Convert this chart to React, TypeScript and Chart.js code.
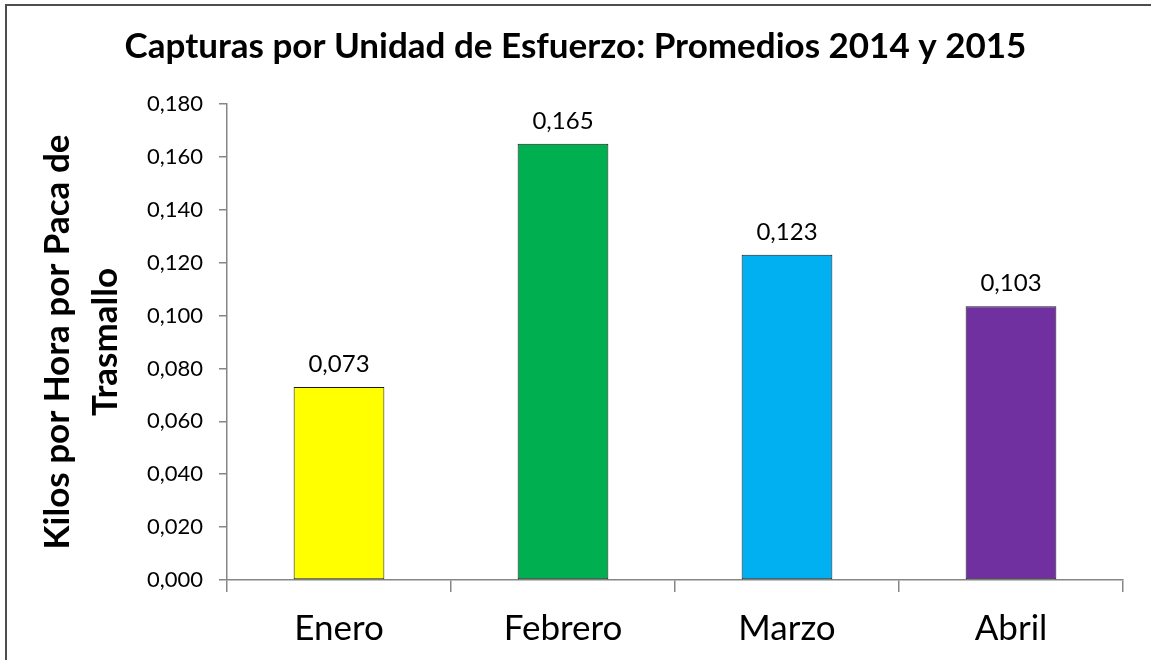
import React, { useEffect, useRef } from "react";
import { Chart, registerables } from "chart.js";

Chart.register(...registerables);

const categories = ["Enero", "Febrero", "Marzo", "Abril"];
const values = [0.073, 0.165, 0.123, 0.1035];
const valueLabels = ["0,073", "0,165", "0,123", "0,103"];
const barColors = ["#FFFF00", "#00B050", "#00B0F0", "#7030A0"];
const titleText = "Capturas por Unidad de Esfuerzo: Promedios 2014 y 2015";
const yTitleLines = ["Kilos por Hora por Paca de", "Trasmallo"];

const FONT = "Lato, 'Open Sans', sans-serif";

const borderPlugin = {
  id: "outerBorder",
  afterLayout(chart: any) {
    // center the title over the whole canvas, not only over the padded box
    if (chart.titleBlock) {
      chart.titleBlock.left = 0;
      chart.titleBlock.right = chart.width;
      chart.titleBlock.width = chart.width;
    }
  },
  beforeDraw(chart: any) {
    const ctx = chart.ctx;
    ctx.save();
    ctx.fillStyle = "#ffffff";
    ctx.fillRect(0, 0, chart.width, chart.height);
    ctx.strokeStyle = "#4d4d4d";
    ctx.lineWidth = 2;
    ctx.strokeRect(6, 5, chart.width + 20, chart.height + 20);
    ctx.restore();
  },
};

const valueLabelPlugin = {
  id: "valueLabels",
  afterDatasetsDraw(chart: any) {
    const ctx = chart.ctx;
    const meta = chart.getDatasetMeta(0);
    ctx.save();
    ctx.font = `24px ${FONT}`;
    ctx.fillStyle = "#000000";
    ctx.textAlign = "center";
    ctx.textBaseline = "alphabetic";
    meta.data.forEach((bar: any, i: number) => {
      ctx.fillText(valueLabels[i], bar.x, bar.y - 15);
    });
    ctx.restore();
  },
};

export default function App() {
  const ref = useRef<HTMLCanvasElement>(null);
  useEffect(() => {
    if (!ref.current) return;
    const chart = new Chart(ref.current, {
      type: "bar",
      data: {
        labels: categories,
        datasets: [
          {
            data: values,
            backgroundColor: barColors,
            borderColor: "#1a1a1a",
            borderWidth: 1,
            borderSkipped: false,
            barPercentage: 0.405,
            categoryPercentage: 1,
          },
        ],
      },
      options: {
        responsive: false,
        animation: false,
        layout: { padding: { left: 0, right: 28, top: 0, bottom: 0 } },
        plugins: {
          legend: { display: false },
          tooltip: { enabled: false },
          title: {
            display: true,
            text: titleText,
            color: "#000000",
            font: { family: FONT, size: 35, weight: "bold", lineHeight: 1.2 },
            padding: { top: 26, bottom: 36 },
          },
        },
        scales: {
          x: {
            grid: {
              display: true,
              drawOnChartArea: false,
              drawTicks: true,
              tickLength: 12,
              color: "#868686",
              lineWidth: 1.5,
              offset: true,
            },
            border: { color: "#868686", width: 1.5 },
            ticks: {
              color: "#000000",
              font: { family: FONT, size: 35, lineHeight: 1.2 },
              padding: 16,
            },
            afterFit(scale: any) {
              scale.height = 80;
            },
          },
          y: {
            min: 0,
            max: 0.18,
            grid: {
              display: true,
              drawOnChartArea: false,
              drawTicks: true,
              tickLength: 8,
              color: "#868686",
              lineWidth: 1.5,
            },
            border: { color: "#868686", width: 1.5 },
            ticks: {
              stepSize: 0.02,
              color: "#000000",
              font: { family: FONT, size: 22 },
              padding: 16,
              callback: (v: any) => Number(v).toFixed(3).replace(".", ","),
            },
            title: {
              display: true,
              text: yTitleLines,
              color: "#000000",
              font: { family: FONT, size: 35, weight: "bold", lineHeight: 1.37 },
              padding: { top: 34, bottom: 0 },
            },
            afterFit(scale: any) {
              scale.width = 227;
            },
          },
        },
      },
      plugins: [borderPlugin, valueLabelPlugin],
    });
    return () => chart.destroy();
  }, []);
  return (
    <div style={{ position: "fixed", left: 0, top: 0, width: 1151, height: 660 }}>
      <canvas ref={ref} width={1151} height={660} style={{ width: 1151, height: 660, display: "block" }} />
    </div>
  );
}
